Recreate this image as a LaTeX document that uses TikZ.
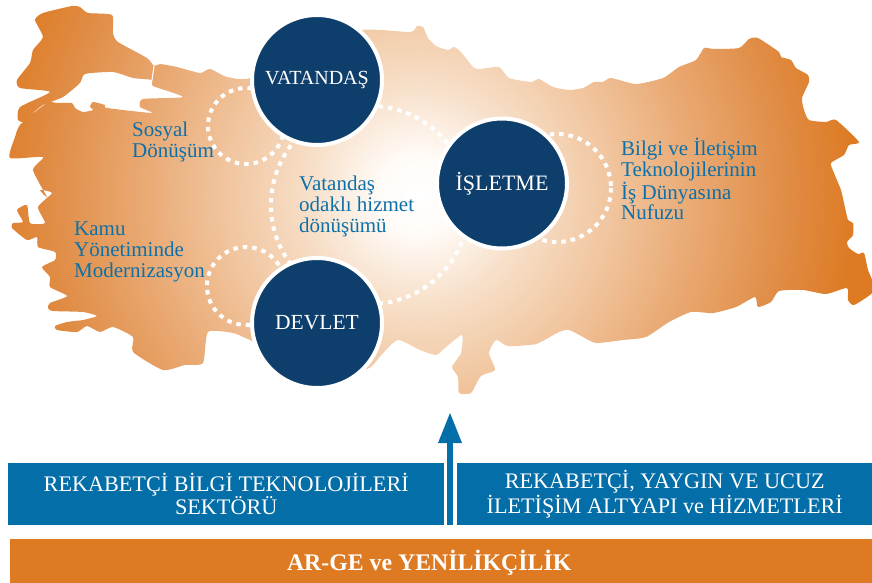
\documentclass[tikz,border=0pt]{standalone}
\usepackage{fontspec}
\setmainfont{Liberation Serif}
\usetikzlibrary{arrows.meta}
\definecolor{mapA}{HTML}{FFFBF7}
\definecolor{mapB}{HTML}{F7DFC8}
\definecolor{mapC}{HTML}{F1C6A0}
\definecolor{mapD}{HTML}{E9A871}
\definecolor{mapE}{HTML}{E08C45}
\definecolor{mapF}{HTML}{DD7A22}
\definecolor{barblue}{HTML}{046EA8}
\definecolor{discblue}{HTML}{0E3F6C}
\definecolor{textblue}{HTML}{0E70A8}
\definecolor{barorange}{HTML}{DD7A22}
\pgfdeclareradialshading{mapglow}{\pgfpoint{0bp}{0bp}}{color(0bp)=(white); color(2bp)=(mapA); color(5.5bp)=(mapB); color(9.5bp)=(mapC); color(14bp)=(mapD); color(18.5bp)=(mapE); color(22bp)=(mapF); color(50bp)=(mapF)}
\tikzset{
  ring/.style={draw=white,line width=4pt,dash pattern=on 4.5pt off 5pt},
  disc/.style={circle,fill=discblue,draw=white,line width=4pt,minimum size=130pt,inner sep=0pt,text=white,font=\fontsize{20}{22}\selectfont},
  maplabel/.style={text=textblue,align=left,anchor=north west,inner sep=0pt,font=\fontsize{21}{20.8}\selectfont},
  bar/.style={fill=barblue,draw=none,minimum height=62pt,inner sep=0pt,text=white,align=center,font=\fontsize{22.2}{23}\selectfont},
}
\begin{document}
\begin{tikzpicture}[x=1pt,y=-1pt]
\useasboundingbox (0,0) rectangle (872,583);
\def\mapoutline{plot[smooth cycle,tension=0.35] coordinates {
(35,20)(43,13)(72,6)(80,7)(88,13)(112,15)(113,33)(118,42)(147,58)(154,66)(160,64)(177,67)(200,73)(210,69)(227,77)(250,78)
(300,50)(362,30)(410,32)(417,26)(423,27)(428,38)(436,46)(448,50)(454,47)(461,52)(473,67)(479,69)(499,67)(509,78)(531,82)(539,79)(553,87)(569,90)(583,88)(594,82)(603,82)(611,78)(636,84)(663,78)(679,67)(696,60)(704,48)(713,49)(739,48)(749,39)(758,38)(779,52)(781,57)(791,60)(796,68)(808,75)(809,82)(802,98)(804,110)(809,120)(826,122)(836,120)(859,142)(849,145)(844,155)(831,163)(834,173)(841,190)(844,203)(848,220)(853,223)(853,235)(847,242)(849,248)(858,254)(864,253)(868,270)(872,280)(872,293)(854,305)(848,300)(847,288)(826,294)(803,290)(779,291)(771,302)(758,307)(755,297)(736,307)(713,313)(691,312)(669,322)(646,337)(623,340)(596,343)(583,337)(569,330)(559,332)(536,344)(508,346)(496,340)(489,353)(495,370)(481,376)(471,393)(459,393)(458,377)(452,367)(461,353)(462,335)(446,347)(436,355)(420,350)(398,340)(383,353)(367,369)
(320,370)(250,340)(233,333)(208,332)(203,363)(185,365)(163,370)(133,352)(133,337)(113,327)(100,332)(87,326)(77,332)(57,330)(55,326)(67,322)(83,320)(97,316)(83,312)(53,311)(48,308)(50,303)(67,296)(50,287)(50,277)(42,267)(55,260)(55,252)(38,247)(37,237)(27,240)(12,228)(13,223)(23,222)(17,210)(27,205)(30,223)(45,223)(38,207)(52,193)(40,190)(47,197)(33,170)(43,157)(10,158)(15,137)(20,125)(40,108)(50,102)(57,103)(72,103)(75,108)(83,112)(93,110)(90,107)(93,102)(105,105)(107,108)(152,113)(140,107)(143,99)(183,97)(153,86)(152,80)(133,78)(113,72)(85,74)(80,83)(63,97)(43,105)(33,113)(25,122)(18,120)(20,107)(50,92)(20,88)(17,80)(30,63)(33,50)(43,37)
}}
\begin{scope}
\clip \mapoutline;
\shade[shading=mapglow] (418,195) circle (500);
\end{scope}
\draw[white,line width=1pt] (154,66) -- (152,80);
% dotted rings
\draw[ring] (246,126) circle (38);
\draw[ring] (246,286) circle (39);
\draw[ring] (557,188) circle (54);
\draw[ring] (370,205) circle (99);
% discs
\node[disc] (vatandas) at (317,80) {VATANDAŞ};
\node[disc,font=\fontsize{22}{24}\selectfont] (isletme) at (502,183.5) {İŞLETME};
\node[disc,font=\fontsize{21.5}{24}\selectfont] (devlet) at (317,323) {DEVLET};
% labels
\node[maplabel] (sosyal) at (132,122) {Sosyal\\Dönüşüm};
\node[maplabel] (kamu) at (74,222) {Kamu\\Yönetiminde\\Modernizasyon};
\node[maplabel] (vodak) at (299,176) {Vatandaş\\odaklı hizmet\\dönüşümü};
\node[maplabel] (bilgi) at (621,138) {Bilgi ve İletişim\\Teknolojilerinin\\İş Dünyasına\\Nufuzu};
% bars
\node[bar,minimum width=436pt,anchor=north west] (sektor) at (8,463) {REKABETÇİ BİLGİ TEKNOLOJİLERİ\\SEKTÖRÜ};
\node[bar,minimum width=415pt,anchor=north west] (altyapi) at (457,463) {REKABETÇİ, YAYGIN VE UCUZ\\İLETİŞİM ALTYAPI ve HİZMETLERİ};
\node[fill=barorange,minimum width=862pt,minimum height=44pt,inner sep=0pt,anchor=north west,text=white,font=\fontsize{23.8}{24}\selectfont\bfseries,text depth=0pt] (arge) at (10,538.5) {\hspace*{-24pt}AR-GE ve YENİLİKÇİLİK};
% arrow
\coordinate (arrowfoot) at (450,525);
\coordinate (arrowtip) at (450,413);
\draw[barblue,line width=6pt,-{Triangle[length=30pt,width=24pt,line width=0pt]}] (arrowfoot) -- (arrowtip);
\end{tikzpicture}
\end{document}
